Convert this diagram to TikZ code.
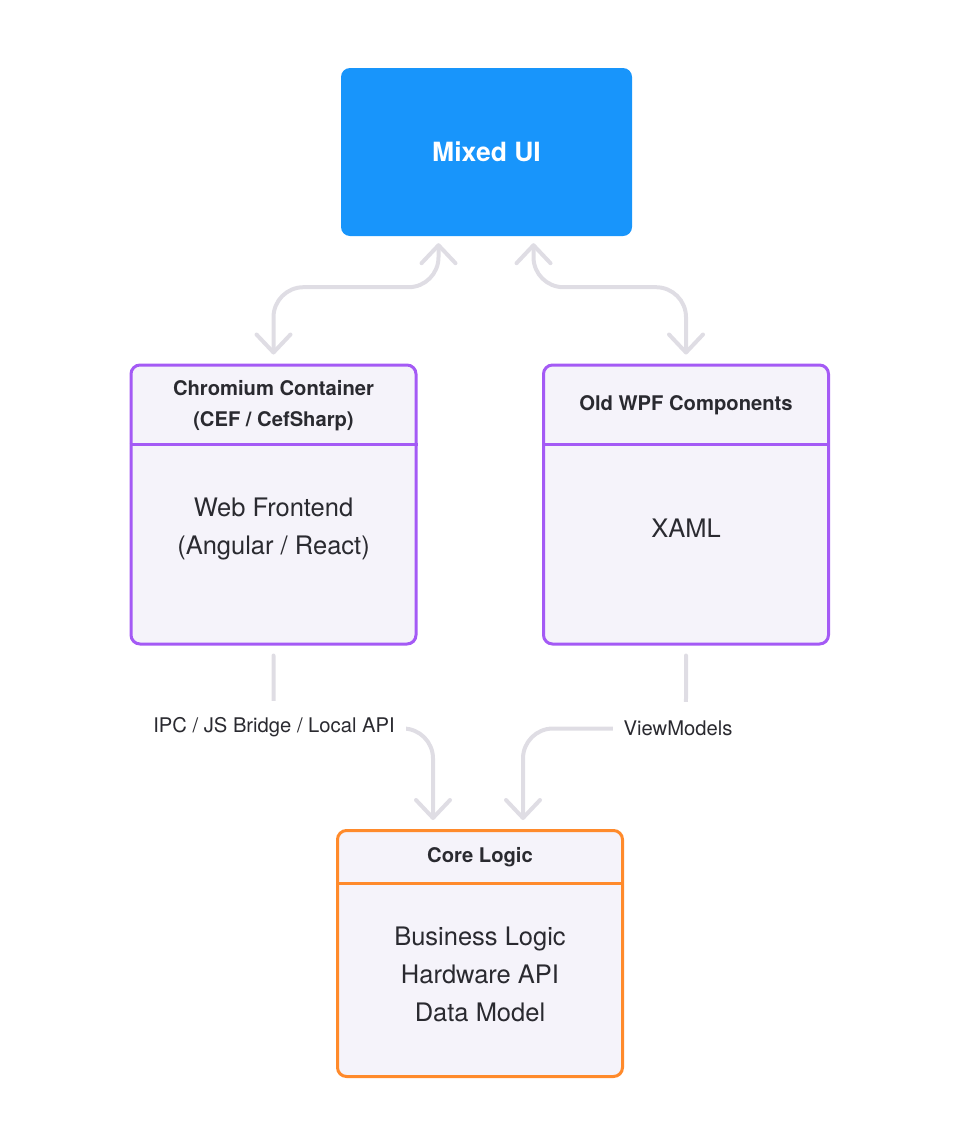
\documentclass[tikz,border=0pt]{standalone}
\usepackage{fontspec}
\setmainfont{TeX Gyre Heros}
\usetikzlibrary{arrows.meta,calc}
\definecolor{uiblue}{HTML}{1895FB}
\definecolor{boxpurple}{HTML}{A45AF5}
\definecolor{boxorange}{HTML}{FF8A2B}
\definecolor{boxfill}{HTML}{F5F3FA}
\definecolor{conngray}{HTML}{DFDDE4}
\definecolor{txt}{HTML}{2A2A30}
\begin{document}
\begin{tikzpicture}[x=1pt,y=-1pt,
  compbox/.style={fill=boxfill, line width=3pt, rounded corners=9pt},
  hdr/.style={text=txt, align=center, font=\bfseries\fontsize{20.2}{31}\selectfont},
  bodytxt/.style={text=txt, align=center, font=\fontsize{25.5}{38}\selectfont},
  lbl/.style={text=txt, fill=white, inner xsep=11pt, minimum height=52pt, font=\fontsize{20.2}{23}\selectfont},
  conn/.style={draw=conngray, line width=4pt, rounded corners=30pt, line cap=round,
    >={Straight Barb[length=18pt,width=34pt,round]}}]
\useasboundingbox (0,0) rectangle (960,1138);
% Mixed UI
\node[fill=uiblue, rounded corners=9pt, minimum width=291pt, minimum height=168pt,
  text=white, font=\bfseries\fontsize{26.5}{30}\selectfont] (mixed) at (486.5,152) {Mixed UI};
% Chromium box
\node[compbox, draw=boxpurple, minimum width=285pt, minimum height=279pt] (chrom) at (273.5,504.5) {};
\draw[boxpurple, line width=3pt] ($(chrom.north west)+(0,81)$) -- ($(chrom.north east)+(0,81)$);
\node[hdr] (chromh) at ($(chrom.north)+(0,42)$) {Chromium Container\\(CEF / CefSharp)};
\node[bodytxt] (chromb) at (273.5,529) {Web Frontend\\(Angular / React)};
% WPF box
\node[compbox, draw=boxpurple, minimum width=285pt, minimum height=279pt] (wpf) at (686,504.5) {};
\draw[boxpurple, line width=3pt] ($(wpf.north west)+(0,81)$) -- ($(wpf.north east)+(0,81)$);
\node[hdr] (wpfh) at ($(wpf.north)+(0,42)$) {Old WPF Components};
\node[bodytxt] (wpfb) at (686,528) {XAML};
% Core box
\node[compbox, draw=boxorange, minimum width=285pt, minimum height=246pt] (core) at (480,953.5) {};
\draw[boxorange, line width=3pt] ($(core.north west)+(0,54)$) -- ($(core.north east)+(0,54)$);
\node[hdr] (coreh) at ($(core.north)+(0,28)$) {Core Logic};
\node[bodytxt] (coreb) at (480,974) {Business Logic\\Hardware API\\Data Model};
% connectors top
\draw[conn, <->, shorten <=7pt, shorten >=9pt] ([xshift=-48pt]mixed.south) -- ++(0,51) -| (chrom.north);
\draw[conn, <->, shorten <=7pt, shorten >=9pt] ([xshift=47pt]mixed.south) -- ++(0,51) -| (wpf.north);
% connectors bottom
\draw[conn, ->, shorten <=10pt, shorten >=9pt] (chrom.south) -- ++(0,83) -| ([xshift=-47pt]core.north);
\draw[conn, ->, shorten <=10pt, shorten >=9pt] (wpf.south) -- ++(0,83) -| ([xshift=43pt]core.north);
\node[lbl] (ipc) at (274,727) {IPC / JS Bridge / Local API};
\node[lbl] (vm) at (678,728) {ViewModels};
\end{tikzpicture}
\end{document}
